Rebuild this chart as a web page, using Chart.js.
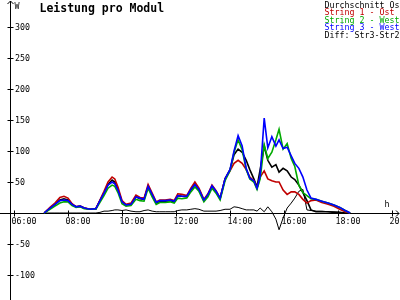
<!DOCTYPE html>
<html lang="de">
<head>
<meta charset="UTF-8">
<title>Leistung pro Modul</title>
<script src="https://cdn.jsdelivr.net/npm/chart.js@4"></script>
<style>
    html, body { margin: 0; padding: 0; background: #fff; }
    #wrap { width: 400px; height: 300px; }
</style>
</head>
<body>
<div id="wrap"><canvas id="leistung" width="400" height="300"></canvas></div>
<script>
// Messzeitpunkte (HH:MM)
const times = [
    '07:07','07:20','07:31','07:42','07:51','08:00','08:09','08:18','08:27','08:36',
    '08:49','09:02','09:11','09:20','09:29','09:38','09:44','09:51','10:00','10:09',
    '10:20','10:31','10:40','10:49','10:58','11:07','11:16','11:24','11:36','11:47',
    '11:56','12:04','12:13','12:24','12:33','12:42','12:51','13:02','13:11','13:20',
    '13:29','13:38','13:49','14:00','14:09','14:18','14:27','14:36','14:44','14:53',
    '15:00','15:07','15:16','15:24','15:33','15:42','15:49','15:58','16:07','16:16',
    '16:24','16:33','16:42','16:51','17:00','17:11','17:24','17:38','17:51','18:04',
    '18:16','18:27'
];

// Leistung in W
const durchschnitt = [
    0, 8, 14, 21, 23, 21, 14, 10, 11, 8,
    6, 7, 20, 32, 46, 53, 50, 38, 18, 13,
    14, 26, 23, 22, 43, 29, 16, 19, 19, 20,
    18, 28, 27, 26, 37, 46, 38, 20, 29, 43,
    34, 23, 55, 70, 94, 103, 98, 85, 70, 55,
    42, 70, 108, 85, 74, 78, 66, 72, 68, 58,
    54, 45, 33, 20, 5, 2, 2, 2, 1, 1,
    0, 0
];
const string1 = [
    0, 9, 16, 25, 27, 24, 15, 10, 11, 8,
    6, 7, 21, 35, 50, 58, 55, 42, 20, 14,
    16, 29, 25, 24, 46, 32, 18, 21, 21, 22,
    20, 31, 30, 28, 40, 50, 40, 22, 31, 45,
    36, 24, 55, 68, 80, 85, 80, 70, 58, 52,
    40, 58, 68, 55, 52, 50, 50, 37, 30, 34,
    34, 30, 22, 16, 20, 21, 17, 14, 11, 6,
    2, 0
];
const string2 = [
    0, 6, 11, 16, 18, 18, 12, 9, 10, 7,
    6, 6, 17, 28, 40, 45, 43, 33, 15, 11,
    12, 22, 20, 19, 40, 26, 14, 17, 17, 18,
    16, 24, 23, 24, 34, 42, 35, 18, 26, 40,
    32, 21, 52, 68, 98, 118, 102, 70, 55, 50,
    38, 55, 110, 88, 98, 118, 135, 103, 112, 88,
    75, 45, 33, 28, 23, 22, 19, 16, 13, 9,
    4, 0
];
const string3 = [
    0, 8, 14, 20, 21, 20, 14, 10, 11, 8,
    6, 7, 20, 32, 45, 50, 47, 37, 18, 13,
    14, 26, 24, 22, 43, 30, 17, 20, 20, 21,
    19, 28, 27, 27, 38, 46, 38, 21, 30, 44,
    35, 24, 55, 70, 100, 125, 108, 72, 56, 52,
    40, 60, 153, 105, 123, 108, 118, 104, 106, 92,
    80, 72, 58, 37, 24, 22, 19, 16, 13, 9,
    4, 0
];
const diffStr3Str2 = [
    0, 0, 0, 0, 0, 0, 0, 0, 0, 0,
    0, 0, 1, 3, 3, 4, 5, 5, 4, 5,
    3, 2, 2, 4, 5, 3, 2, 2, 2, 2,
    2, 4, 5, 5, 6, 7, 6, 3, 3, 3,
    3, 4, 6, 6, 10, 9, 7, 5, 5, 5,
    3, 8, 2, 10, 2, -10, -27, -8, 8, 16,
    24, 35, 38, 5, 4, 3, 3, 2, 2, 1,
    0, 0
];

const seriesLabels = ['Durchschnitt Os', 'String 1 - Ost', 'String 2 - West', 'String 3 - West', 'Diff: Str3-Str2'];
const yTicks = [300, 250, 200, 150, 100, 50, -50, -100];
const xTicks = ['06:00', '08:00', '10:00', '12:00', '14:00', '16:00', '18:00', '20:00'];

function hours(t) {
    const [h, m] = t.split(':').map(Number);
    return h + m / 60;
}
function points(values) {
    return values.map((v, i) => ({ x: hours(times[i]), y: v }));
}

const FONT = '"DejaVu Sans Mono", "Liberation Mono", monospace';

// eigene Achsen im Stil der Vorlage (Achsenkreuz mit Pfeilen)
const axesPlugin = {
    id: 'axes',
    beforeDraw(chart) {
        const ctx = chart.ctx;
        ctx.save();
        ctx.fillStyle = '#fff';
        ctx.fillRect(0, 0, chart.width, chart.height);
        ctx.restore();
    },
    beforeDatasetsDraw(chart) {
        const ctx = chart.ctx;
        const xs = chart.scales.x, ys = chart.scales.y;
        const x0 = Math.round(xs.getPixelForValue(hours('05:51'))) + 0.5;
        const y0 = Math.round(ys.getPixelForValue(0)) + 0.5;
        const w = chart.width, h = chart.height;

        ctx.save();
        ctx.strokeStyle = '#000';
        ctx.lineWidth = 1;
        ctx.beginPath();
        ctx.moveTo(x0, h); ctx.lineTo(x0, 1);
        ctx.moveTo(x0 - 3, 4); ctx.lineTo(x0, 1); ctx.lineTo(x0 + 3, 4);
        ctx.moveTo(0, y0); ctx.lineTo(w - 1, y0);
        ctx.moveTo(w - 4, y0 - 3); ctx.lineTo(w - 1, y0); ctx.lineTo(w - 4, y0 + 3);
        yTicks.forEach(v => {
            const py = Math.round(ys.getPixelForValue(v)) + 0.5;
            ctx.moveTo(x0 - 3, py); ctx.lineTo(x0 + 3, py);
        });
        xTicks.forEach(t => {
            const px = Math.round(xs.getPixelForValue(hours(t))) + 0.5;
            ctx.moveTo(px, y0 - 3); ctx.lineTo(px, y0 + 3);
        });
        ctx.stroke();

        ctx.fillStyle = '#000';
        ctx.textAlign = 'left';
        ctx.textBaseline = 'alphabetic';
        ctx.font = '8.3px ' + FONT;
        yTicks.forEach(v => ctx.fillText(String(v), x0 + 4.5, ys.getPixelForValue(v) + 3));
        xTicks.forEach(t => ctx.fillText(t, xs.getPixelForValue(hours(t)) - 2.5, y0 + 10));
        ctx.fillText('W', x0 + 4, 8.5);
        ctx.fillText('h', 384.5, 207);

        ctx.font = 'bold 11.5px ' + FONT;
        ctx.fillText('Leistung pro Modul', 39.5, 11.5);
        ctx.restore();
    },
    afterDatasetsDraw(chart) {
        const ctx = chart.ctx;
        ctx.save();
        ctx.font = '8.3px ' + FONT;
        ctx.textAlign = 'left';
        ctx.textBaseline = 'alphabetic';
        chart.data.datasets.slice().sort((a, b) => a.legendRow - b.legendRow).forEach((ds, i) => {
            ctx.fillStyle = ds.borderColor;
            ctx.fillText(ds.label, 324.5, 7.5 + i * 7.65);
        });
        ctx.restore();
    }
};

new Chart(document.getElementById('leistung'), {
    type: 'line',
    data: {
        datasets: [
            { label: seriesLabels[3], data: points(string3), borderColor: '#0000ff', borderWidth: 1.6, order: 0, legendRow: 3 },
            { label: seriesLabels[2], data: points(string2), borderColor: '#00aa00', borderWidth: 1.6, order: 1, legendRow: 2 },
            { label: seriesLabels[1], data: points(string1), borderColor: '#c00000', borderWidth: 1.6, order: 2, legendRow: 1 },
            { label: seriesLabels[0], data: points(durchschnitt), borderColor: '#000000', borderWidth: 1.6, order: 3, legendRow: 0 },
            { label: seriesLabels[4], data: points(diffStr3Str2), borderColor: '#000000', borderWidth: 1, order: 4, legendRow: 4 }
        ]
    },
    options: {
        responsive: false,
        animation: false,
        devicePixelRatio: 1,
        layout: { padding: 0 },
        elements: {
            point: { radius: 0 },
            line: { tension: 0, fill: false }
        },
        scales: {
            x: { type: 'linear', display: false, min: 6 - 14 / 27, max: 6 + 386 / 27 },
            y: { type: 'linear', display: false, min: -87 / 0.62, max: 213 / 0.62 }
        },
        plugins: {
            legend: { display: false },
            tooltip: { enabled: false }
        }
    },
    plugins: [axesPlugin]
});
</script>
</body>
</html>
